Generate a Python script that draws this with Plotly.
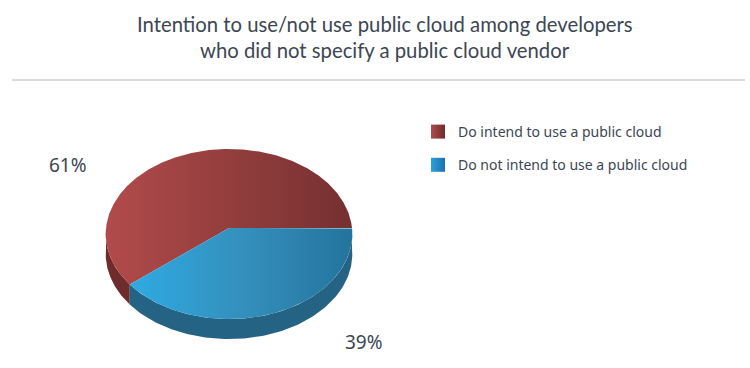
import numpy as np
import plotly.graph_objects as go

title_lines = ["Intention to use/not use public cloud among developers",
               "who did not specify a public cloud vendor"]
categories = ["Do intend to use a public cloud", "Do not intend to use a public cloud"]
values = [61, 39]
top_colors = [["#B24B4B", "#753030"], ["#2FAAE3", "#3490BC", "#23749E"]]
wall_colors = ["#6E2C2C", "#256384"]
swatch_colors = ["#B04A4C", "#2BA2DC"]
swatch_edges = ["#6E2C2C", "#1B6FB0"]
label_positions = [(68, 165), (364, 342)]
text_color = "#3C4653"

W, H = 750, 368
CX, CY, R, SQUASH, K, DEPTH = 229, 228, 123, 0.688, 0.0706, 20


def project(theta):
    u, v = np.cos(theta), np.sin(theta)
    d = 1 - K * v
    return CX + R * u / d, CY + R * SQUASH * v / d


total = sum(values)
blue_end = 2 * np.pi * values[1] / total
spans = [(blue_end, 2 * np.pi), (0.0, blue_end)]
fig = go.Figure()

# walls (front half only)
for i, (a, b) in enumerate(spans):
    lo, hi = max(a, 0), min(b, np.pi)
    if hi <= lo:
        continue
    t = np.linspace(lo, hi, 120)
    x, y = project(t)
    fig.add_trace(go.Scatter(
        x=np.r_[x, x[::-1]], y=np.r_[y, y[::-1] + DEPTH], mode="lines",
        line=dict(width=0), fill="toself", fillcolor=wall_colors[i],
        hoverinfo="skip", showlegend=False))

# top faces
for i, (a, b) in enumerate(spans):
    t = np.linspace(a, b, 400)
    x, y = project(t)
    x = np.r_[CX, x, CX]
    y = np.r_[CY, y, CY]
    stops = top_colors[i]
    scale = [[j / (len(stops) - 1), c] for j, c in enumerate(stops)]
    fig.add_trace(go.Scatter(
        x=x, y=y, mode="lines", line=dict(width=0), fill="toself",
        fillgradient=dict(type="horizontal", start=float(x.min()), stop=float(x.max()),
                          colorscale=scale),
        hoverinfo="skip", showlegend=False))

# legend keys
for i, c in enumerate(categories):
    fig.add_trace(go.Scatter(
        x=[None], y=[None], mode="markers", name=c, legendgroup=c,
        marker=dict(symbol="square", size=14, color=swatch_colors[i], line=dict(width=0),
                    gradient=dict(type="horizontal", color=swatch_edges[i]))))

for v, (lx, ly) in zip(values, label_positions):
    fig.add_annotation(x=lx, y=ly, text=f"{v}%", showarrow=False,
                       font=dict(size=19, color=text_color, family="Noto Sans"))

for line, ly in zip(title_lines, (24, 50)):
    fig.add_annotation(x=385, y=ly, text=line, showarrow=False,
                       font=dict(size=20.3, color=text_color, family="Lato"))

fig.add_shape(type="line", x0=12, x1=745, y0=80, y1=80,
              line=dict(color="#B8B8B8", width=1))

fig.update_layout(
    width=W, height=H, margin=dict(l=0, r=0, t=0, b=0),
    paper_bgcolor="white", plot_bgcolor="white",
    xaxis=dict(range=[0, W], visible=False, fixedrange=True),
    yaxis=dict(range=[H, 0], visible=False, fixedrange=True),
    legend=dict(x=418 / W, y=1 - 116 / H, xanchor="left", yanchor="top",
                tracegroupgap=12, itemwidth=30, bgcolor="rgba(0,0,0,0)",
                font=dict(size=14, color=text_color, family="Noto Sans")),
)
fig.write_html("out.html", config=dict(displayModeBar=False),
               post_script="document.body.style.margin='0';")
